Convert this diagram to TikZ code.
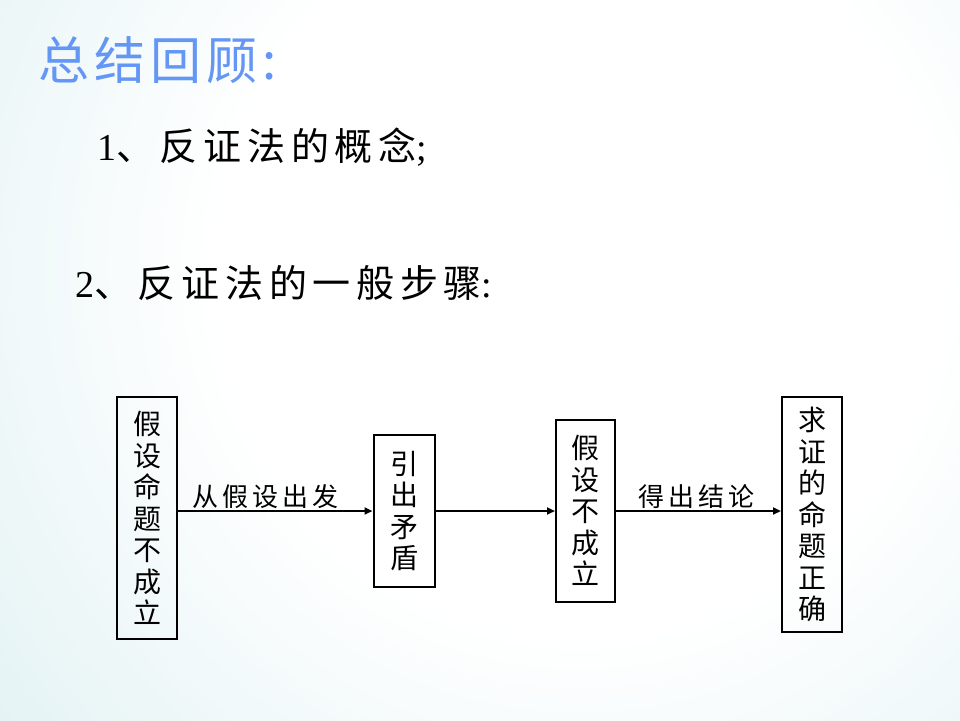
\documentclass[tikz,border=0pt]{standalone}
\usepackage{fontspec}
\newfontfamily\cjk{Noto Sans CJK SC}
\newfontfamily\cjkls{Noto Sans CJK SC}[LetterSpace=15]
\newfontfamily\cjkti{Noto Sans CJK SC}[LetterSpace=10]
\newfontfamily\lat{Liberation Serif}
\usetikzlibrary{arrows.meta,calc}
\definecolor{bgteal}{RGB}{188,225,229}
\definecolor{titleblue}{RGB}{100,150,245}
\pgfdeclareradialshading{bgshade}{\pgfpoint{0bp}{0bp}}{color(0bp)=(white); color(7bp)=(white); color(25bp)=(bgteal); color(50bp)=(bgteal)}
\tikzset{
  box/.style={draw, line width=2pt, inner sep=0pt, align=center,
    font=\cjk\fontsize{28}{31.5}\selectfont},
  arr/.style={line width=2pt, -{Triangle[length=8pt,width=7pt]}},
  lbl/.style={inner sep=1pt, font=\cjkls\fontsize{26}{26}\selectfont},
  heading/.style={anchor=west, inner sep=0pt, font=\cjkls\fontsize{38}{38}\selectfont}
}
\begin{document}
\begin{tikzpicture}[x=1pt,y=-1pt]
\useasboundingbox (0,0) rectangle (960,720);
\fill[bgteal] (0,0) rectangle (960,720);
\begin{scope}
\clip (0,0) rectangle (960,720);
\shade[shading=bgshade] (580,270) circle[radius=1300pt];
\end{scope}
\node[anchor=west, inner sep=0pt, text=titleblue, font=\cjkti\fontsize{51}{51}\selectfont] (title) at (38,60) {总结回顾:};
\node[heading] (l1) at (97,147) {{\lat 1}、反证法的概念{\lat ;}};
\node[heading] (l2) at (75,283) {{\lat 2}、反证法的一般步骤{\lat :}};
\node[box, minimum width=60pt, minimum height=242pt] (b1) at (147,518) {假\\设\\命\\题\\不\\成\\立};
\node[box, minimum width=61pt, minimum height=152pt] (b2) at (404,511) {引\\出\\矛\\盾};
\node[box, minimum width=59pt, minimum height=182pt] (b3) at (585.5,510.5) {假\\设\\不\\成\\立};
\node[box, minimum width=60pt, minimum height=235pt] (b4) at (812,514.5) {求\\证\\的\\命\\题\\正\\确};
\coordinate (lvl) at (0,511);
\draw[arr] (b1.east |- lvl) -- node[lbl, midway, above, xshift=-10pt] (t1) {从假设出发} (b2.west |- lvl);
\draw[arr] (b2.east |- lvl) -- (b3.west |- lvl);
\draw[arr] (b3.east |- lvl) -- node[lbl, midway, above, xshift=-2pt] (t2) {得出结论} (b4.west |- lvl);
\end{tikzpicture}
\end{document}
